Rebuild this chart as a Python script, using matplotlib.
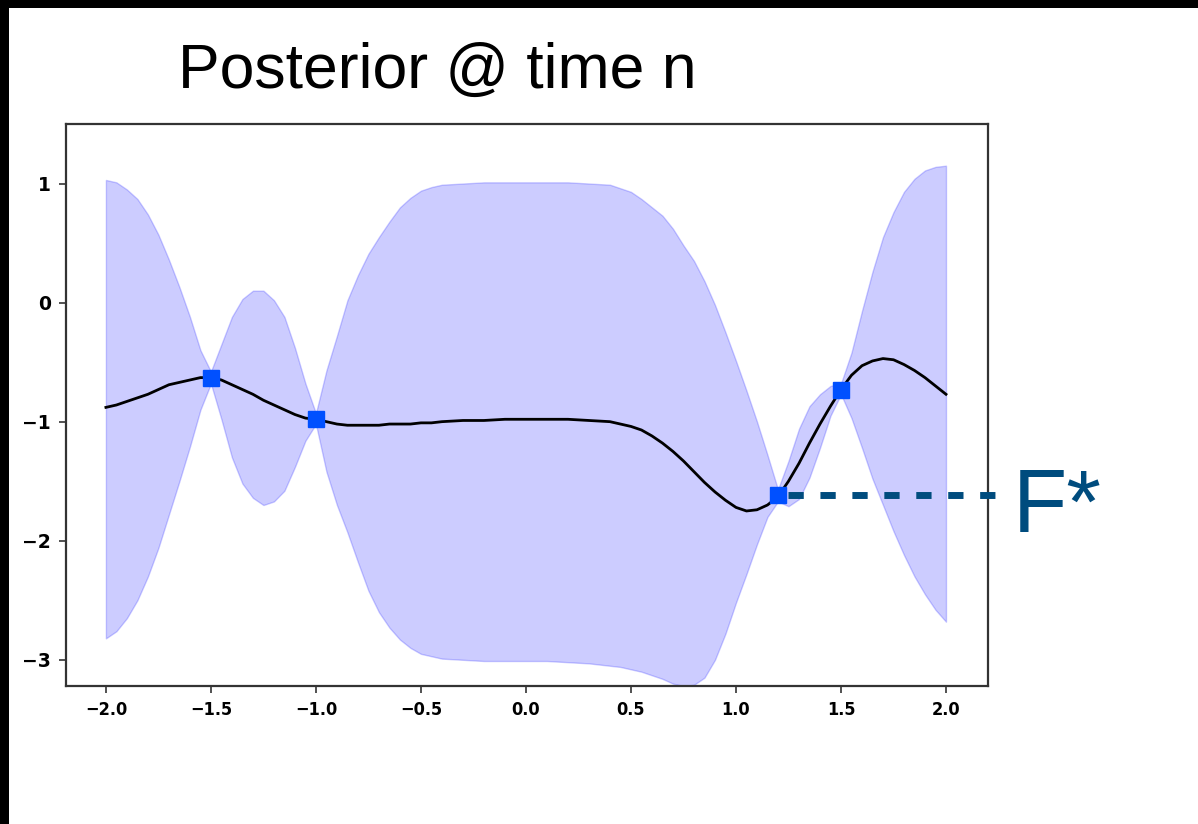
import matplotlib
matplotlib.use("Agg")
import matplotlib.pyplot as plt
from matplotlib.patches import Rectangle

# GP posterior
x_grid = [-2.0, -1.95, -1.9, -1.85, -1.8, -1.75, -1.7, -1.65, -1.6, -1.55, -1.5,
          -1.45, -1.4, -1.35, -1.3, -1.25, -1.2, -1.15, -1.1, -1.05, -1.0,
          -0.95, -0.9, -0.85, -0.8, -0.75, -0.7, -0.65, -0.6, -0.55, -0.5, -0.45,
          -0.4, -0.3, -0.2, -0.1, 0.0, 0.1, 0.2, 0.3, 0.4, 0.45, 0.5, 0.55, 0.6,
          0.65, 0.7, 0.75, 0.8, 0.85, 0.9, 0.95, 1.0, 1.05, 1.1, 1.15, 1.2, 1.25,
          1.3, 1.35, 1.4, 1.45, 1.5, 1.55, 1.6, 1.65, 1.7, 1.75, 1.8, 1.85, 1.9,
          1.95, 2.0]

mean = [-0.88, -0.86, -0.83, -0.80, -0.77, -0.73, -0.69, -0.67, -0.65, -0.63, -0.63,
        -0.65, -0.69, -0.73, -0.77, -0.82, -0.86, -0.90, -0.94, -0.97, -0.98,
        -1.00, -1.02, -1.03, -1.03, -1.03, -1.03, -1.02, -1.02, -1.02, -1.01, -1.01,
        -1.00, -0.99, -0.99, -0.98, -0.98, -0.98, -0.98, -0.99, -1.00, -1.02, -1.04, -1.07, -1.12,
        -1.18, -1.25, -1.33, -1.42, -1.51, -1.59, -1.66, -1.72, -1.75, -1.74, -1.70, -1.63, -1.50,
        -1.35, -1.18, -1.02, -0.87, -0.73, -0.61, -0.53, -0.49, -0.47, -0.48, -0.52, -0.57, -0.63,
        -0.70, -0.77]

upper = [1.03, 1.01, 0.95, 0.87, 0.74, 0.57, 0.36, 0.13, -0.12, -0.40, -0.58,
         -0.35, -0.12, 0.03, 0.10, 0.10, 0.02, -0.12, -0.38, -0.68, -0.93,
         -0.57, -0.28, 0.02, 0.23, 0.41, 0.55, 0.68, 0.80, 0.88, 0.94, 0.97,
         0.99, 1.00, 1.01, 1.01, 1.01, 1.01, 1.01, 1.00, 0.99, 0.96, 0.93, 0.87, 0.80,
         0.73, 0.62, 0.48, 0.35, 0.18, -0.02, -0.25, -0.49, -0.74, -1.00, -1.28, -1.57, -1.33,
         -1.06, -0.87, -0.77, -0.70, -0.68, -0.42, -0.07, 0.26, 0.55, 0.76, 0.93, 1.04, 1.11,
         1.14, 1.15]

lower = [-2.82, -2.76, -2.65, -2.50, -2.30, -2.06, -1.78, -1.50, -1.21, -0.90, -0.68,
         -0.98, -1.30, -1.52, -1.64, -1.70, -1.67, -1.58, -1.38, -1.16, -1.02,
         -1.42, -1.70, -1.93, -2.18, -2.42, -2.60, -2.73, -2.83, -2.90, -2.95, -2.97,
         -2.99, -3.00, -3.01, -3.01, -3.01, -3.01, -3.02, -3.03, -3.05, -3.06, -3.08, -3.10, -3.13,
         -3.16, -3.20, -3.22, -3.21, -3.15, -3.00, -2.78, -2.52, -2.28, -2.03, -1.80, -1.67, -1.71,
         -1.65, -1.47, -1.22, -0.95, -0.77, -0.97, -1.22, -1.48, -1.70, -1.92, -2.12, -2.30, -2.45,
         -2.58, -2.68]

obs_x = [-1.5, -1.0, 1.2, 1.5]
obs_y = [-0.63, -0.975, -1.62, -0.73]

f_star = -1.62
f_star_end = 2.235

title = "Posterior @ time n"
x_ticks = [-2.0, -1.5, -1.0, -0.5, 0.0, 0.5, 1.0, 1.5, 2.0]
x_labels = ["\u22122.0", "\u22121.5", "\u22121.0", "\u22120.5", "0.0", "0.5", "1.0", "1.5", "2.0"]
y_ticks = [-3, -2, -1, 0, 1]
y_labels = ["\u22123", "\u22122", "\u22121", "0", "1"]

fig = plt.figure(figsize=(11.98, 8.24), dpi=100)
fig.patch.set_facecolor("white")

# black screen edges of the screenshot
fig.patches.append(Rectangle((0, 1 - 8 / 824), 1, 8 / 824, transform=fig.transFigure,
                             facecolor="black", edgecolor="none"))
fig.patches.append(Rectangle((0, 0), 9 / 1198, 1, transform=fig.transFigure,
                             facecolor="black", edgecolor="none"))

ax = fig.add_axes([66 / 1198, 1 - 686 / 824, (988 - 66) / 1198, (686 - 124) / 824])

ax.fill_between(x_grid, lower, upper, color="blue", alpha=0.2)
ax.plot(x_grid, mean, color="black", lw=2)
ax.plot(obs_x, obs_y, "s", color="#0050ff", ms=11, zorder=5)

# F* level, dashed out past the axes
ax.plot([1.2 + 0.05, f_star_end], [f_star, f_star], color="#004c7e", lw=5,
        dashes=(2.2, 2.4), dash_capstyle="butt", clip_on=False, zorder=6)

ax.set_xlim(-2.19, 2.2)
ax.set_ylim(-3.22, 1.5)
ax.set_xticks(x_ticks)
ax.set_yticks(y_ticks)
ax.set_xticklabels(x_labels, fontsize=13, fontweight="bold", fontstretch="condensed")
ax.set_yticklabels(y_labels, fontsize=13.5, fontweight="bold")
ax.tick_params(length=5, width=1.2, color="#333333", pad=6)
for sp in ax.spines.values():
    sp.set_linewidth(1.6)
    sp.set_color("#333333")

fig.text(178 / 1198, 1 - 88 / 824, title, fontsize=45, family="Liberation Sans",
         ha="left", va="baseline", color="black")
fig.text(1013 / 1198, 1 - 532 / 824, "F*", fontsize=64, family="Liberation Sans",
         ha="left", va="baseline", color="#004c7e")

fig.savefig("out.png", dpi=100)
